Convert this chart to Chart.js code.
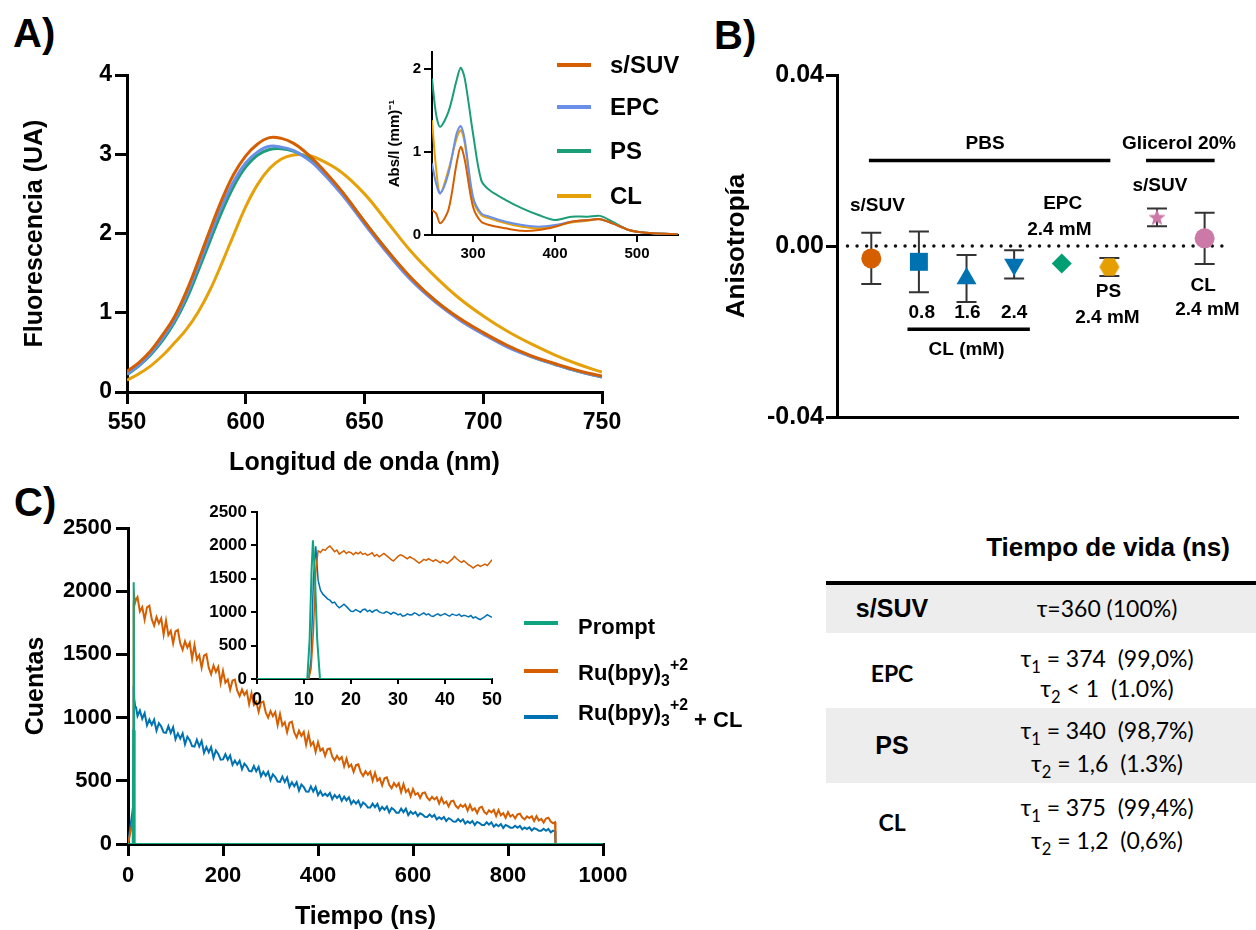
<!DOCTYPE html>
<html>
<head>
<meta charset="utf-8">
<script src="https://cdn.jsdelivr.net/npm/chart.js@4.4.1/dist/chart.umd.min.js"></script>
<style>
  html, body { margin: 0; padding: 0; background: #fff; }
  body { width: 1256px; height: 930px; position: relative; overflow: hidden;
         font-family: "Liberation Sans", Arial, sans-serif; color: #000; }
  canvas { position: absolute; }
  .lab { position: absolute; font-weight: bold; font-size: 40px; line-height: 1; }
  .t  { position: absolute; transform: translate(-50%, -50%); white-space: pre; line-height: 1; }
  .tl { position: absolute; transform: translateY(-50%); white-space: pre; line-height: 1; }
  .ln { position: absolute; height: 4px; width: 34px; }
  .b { font-weight: bold; }
  .cal { font-family: Lato, "Open Sans", sans-serif; }
  sub, sup { font-size: 72%; line-height: 0; position: relative; vertical-align: baseline; }
  sup { top: -0.65em; }
  sub { top: 0.38em; }
  .row { position: absolute; left: 826px; width: 430px; background: #ededed; }
</style>
</head>
<body>

<div class="lab" style="left:13px;top:13px">A)</div>
<div class="lab" style="left:714px;top:15px">B)</div>
<div class="lab" style="left:14px;top:482px">C)</div>

<canvas id="chartA" width="602" height="420" style="left:20px;top:60px"></canvas>
<canvas id="insetA" width="304" height="223" style="left:386px;top:42px"></canvas>
<canvas id="chartB" width="531" height="365" style="left:721px;top:60px"></canvas>
<canvas id="chartC" width="614" height="419" style="left:21px;top:513px"></canvas>
<canvas id="insetC" width="309" height="214" style="left:197px;top:500px"></canvas>

<!-- legend A -->
<div class="ln" style="left:557px;top:63px;background:#D55E00"></div>
<div class="tl b" style="left:610px;top:65px;font-size:24px">s/SUV</div>
<div class="ln" style="left:557px;top:105px;background:#6A8FE8"></div>
<div class="tl b" style="left:610px;top:107px;font-size:24px">EPC</div>
<div class="ln" style="left:557px;top:149px;background:#1B9E77"></div>
<div class="tl b" style="left:610px;top:151px;font-size:24px">PS</div>
<div class="ln" style="left:557px;top:194px;background:#E6A10A"></div>
<div class="tl b" style="left:610px;top:196px;font-size:24px">CL</div>

<!-- legend C -->
<div class="ln" style="left:524px;top:621px;background:#0FA37F"></div>
<div class="tl b" style="left:578px;top:627px;font-size:22px">Prompt</div>
<div class="ln" style="left:524px;top:669px;background:#D55E00"></div>
<div class="tl b" style="left:578px;top:673px;font-size:22px">Ru(bpy)<sub>3</sub><sup>+2</sup></div>
<div class="ln" style="left:524px;top:715px;background:#0072B2"></div>
<div class="tl b" style="left:578px;top:713px;font-size:22px">Ru(bpy)<sub>3</sub><sup>+2</sup> <span style="position:relative;top:7px">+ CL</span></div>

<!-- table -->
<div class="t b" style="left:1108px;top:547px;font-size:26px">Tiempo de vida (ns)</div>
<div style="position:absolute;left:826px;top:581px;width:430px;height:4px;background:#000"></div>
<div class="row" style="top:585px;height:48px"></div>
<div class="row" style="top:708px;height:75px"></div>

<div class="t b" style="left:892px;top:608px;font-size:25px">s/SUV</div>
<div class="t b cal" style="left:892px;top:673px;font-size:23px">EPC</div>
<div class="t b" style="left:892px;top:745px;font-size:25px">PS</div>
<div class="t b cal" style="left:892px;top:822px;font-size:23px">CL</div>

<div class="t cal" style="left:1107px;top:608px;font-size:23px">τ=360 (100%)</div>
<div class="t cal" style="left:1107px;top:658px;font-size:23px">τ<sub>1</sub> = 374  (99,0%)</div>
<div class="t cal" style="left:1107px;top:688px;font-size:23px">τ<sub>2</sub> &lt; 1  (1.0%)</div>
<div class="t cal" style="left:1107px;top:730px;font-size:23px">τ<sub>1</sub> = 340  (98,7%)</div>
<div class="t cal" style="left:1107px;top:763px;font-size:23px">τ<sub>2</sub> = 1,6  (1.3%)</div>
<div class="t cal" style="left:1107px;top:807px;font-size:23px">τ<sub>1</sub> = 375  (99,4%)</div>
<div class="t cal" style="left:1107px;top:840px;font-size:23px">τ<sub>2</sub> = 1,2  (0,6%)</div>

<script>
// ---------- A) emission spectra
const wavelength = [550, 555, 560, 565, 570, 575, 580, 585, 590, 595, 600, 605, 610, 615, 620, 625, 630,
                    640, 650, 660, 670, 680, 690, 700, 710, 720, 730, 740, 750];
const emisSUV = [0.26, 0.37, 0.52, 0.72, 0.95, 1.27, 1.65, 2.05, 2.43, 2.75, 2.98, 3.13, 3.21, 3.20, 3.14, 3.03, 2.89,
                 2.55, 2.15, 1.77, 1.43, 1.15, 0.93, 0.75, 0.59, 0.46, 0.36, 0.27, 0.20];
const emisEPC = [0.23, 0.34, 0.49, 0.68, 0.91, 1.22, 1.59, 1.98, 2.35, 2.66, 2.89, 3.03, 3.10, 3.09, 3.05, 2.96, 2.84,
                 2.51, 2.12, 1.74, 1.40, 1.13, 0.91, 0.73, 0.57, 0.45, 0.35, 0.26, 0.19];
const emisPS  = [0.22, 0.33, 0.47, 0.65, 0.88, 1.17, 1.53, 1.91, 2.28, 2.60, 2.84, 2.99, 3.06, 3.07, 3.04, 2.97, 2.87,
                 2.54, 2.15, 1.77, 1.42, 1.15, 0.92, 0.74, 0.58, 0.45, 0.35, 0.26, 0.19];
const emisCL  = [0.15, 0.23, 0.33, 0.46, 0.62, 0.79, 1.01, 1.29, 1.63, 1.99, 2.34, 2.62, 2.82, 2.94, 2.99, 2.99, 2.95,
                 2.78, 2.50, 2.13, 1.76, 1.45, 1.18, 0.96, 0.77, 0.61, 0.47, 0.35, 0.25];

// inset: absorbance
const absWl  = [250, 255, 260, 270, 280, 285, 290, 300, 310, 320, 340, 360, 380, 400, 420, 440, 455, 470, 490, 500, 520, 550];
const absSUV = [0.30, 0.26, 0.14, 0.30, 0.86, 1.06, 0.90, 0.34, 0.16, 0.12, 0.08, 0.05, 0.06, 0.10, 0.16, 0.18, 0.19, 0.14, 0.06, 0.04, 0.02, 0.01];
const absEPC = [0.86, 0.62, 0.50, 0.74, 1.22, 1.31, 1.14, 0.46, 0.26, 0.22, 0.16, 0.12, 0.10, 0.12, 0.16, 0.18, 0.19, 0.14, 0.06, 0.04, 0.02, 0.01];
const absPS  = [1.88, 1.45, 1.30, 1.48, 1.86, 2.01, 1.88, 1.22, 0.66, 0.54, 0.42, 0.32, 0.24, 0.18, 0.22, 0.22, 0.23, 0.16, 0.06, 0.04, 0.02, 0.01];
const absCL  = [1.38, 0.80, 0.50, 0.78, 1.16, 1.26, 1.10, 0.42, 0.24, 0.20, 0.14, 0.10, 0.08, 0.11, 0.15, 0.17, 0.19, 0.14, 0.06, 0.04, 0.02, 0.01];

// ---------- B) anisotropy
const bGroups = ['s/SUV', 'CL 0.8', 'CL 1.6', 'CL 2.4', 'EPC 2.4', 'PS 2.4', 's/SUV glicerol', 'CL 2.4 glicerol'];
const bMean = [-0.0029, -0.0037, -0.0076, -0.0043, -0.0041, -0.0049, 0.0067, 0.0018];
const bSD   = [0.0060, 0.0071, 0.0055, 0.0033, 0, 0.0021, 0.0021, 0.0060];
const bTicks = [-0.04, 0, 0.04];

// ---------- C) decays (ns, counts)
const tMain = [0, 11, 12, 13, 15, 17,
  20, 25, 30, 35, 40, 45, 50, 55, 60, 65, 70, 75, 80, 85, 90, 95,
  100, 105, 110, 115, 120, 125, 130, 135, 140, 145, 150, 155, 160, 165, 170, 175, 180, 185, 190, 195,
  200, 205, 210, 215, 220, 225, 230, 235, 240, 245, 250, 255, 260, 265, 270, 275, 280, 285, 290, 295,
  300, 305, 310, 315, 320, 325, 330, 335, 340, 345, 350, 355, 360, 365, 370, 375, 380, 385, 390, 395,
  400, 405, 410, 415, 420, 425, 430, 435, 440, 445, 450, 455, 460, 465, 470, 475, 480, 485, 490, 495,
  500, 505, 510, 515, 520, 525, 530, 535, 540, 545, 550, 555, 560, 565, 570, 575, 580, 585, 590, 595,
  600, 605, 610, 615, 620, 625, 630, 635, 640, 645, 650, 655, 660, 665, 670, 675, 680, 685, 690, 695,
  700, 705, 710, 715, 720, 725, 730, 735, 740, 745, 750, 755, 760, 765, 770, 775, 780, 785, 790, 795,
  800, 805, 810, 815, 820, 825, 830, 835, 840, 845, 850, 855, 860, 865, 870, 875, 880, 885, 890, 895,
  899, 900];
const ruMain = [0, 200, 1900, 1960, 1910, 1935,
  1953, 1840, 1874, 1775, 1872, 1885, 1779, 1728, 1796, 1745, 1785, 1657, 1767, 1653, 1686, 1586,
  1682, 1694, 1587, 1536, 1604, 1553, 1593, 1465, 1575, 1461, 1494, 1394, 1490, 1502, 1395, 1344, 1412, 1361, 1401, 1273,
  1370, 1277, 1301, 1220, 1293, 1300, 1213, 1171, 1222, 1179, 1209, 1106, 1192, 1100, 1125, 1045, 1119, 1127, 1041, 1000,
  1052, 1011, 1043, 941, 1028, 937, 963, 884, 959, 968, 883, 843, 896, 855, 887, 785, 872, 781, 807, 728,
  806, 739, 756, 697, 750, 755, 692, 661, 698, 667, 688, 614, 676, 610, 628, 570, 624, 630, 568, 538,
  576, 548, 572, 500, 564, 500, 520, 464, 520, 528, 468, 441, 482, 455, 480, 409, 474, 411, 432, 377,
  435, 390, 404, 364, 403, 408, 366, 346, 373, 353, 370, 320, 365, 321, 336, 297, 337, 343, 302, 283,
  311, 293, 312, 264, 310, 267, 283, 245, 287, 294, 254, 237, 267, 250, 270, 222, 269, 227, 244, 207,
  252, 218, 231, 202, 234, 240, 209, 195, 219, 206, 220, 182, 220, 186, 198, 170, 202, 208, 177, 163,
  172, 0];
const ruClMain = [0, 300, 1250, 1150, 1090, 1080,
  1013, 1056, 991, 1035, 939, 984, 942, 983, 897, 956, 929, 883, 879, 933, 879, 924,
  829, 875, 834, 875, 789, 848, 821, 775, 771, 825, 771, 816, 721, 767, 726, 767, 681, 740, 713, 667,
  669, 710, 667, 701, 626, 661, 628, 659, 591, 636, 614, 578, 575, 617, 575, 610, 536, 572, 540, 572,
  505, 551, 530, 494, 491, 533, 491, 526, 452, 488, 456, 489, 423, 470, 450, 415, 413, 456, 415, 451,
  387, 418, 382, 398, 380, 403, 355, 388, 365, 385, 342, 375, 345, 370, 317, 343, 320, 343, 295, 328,
  313, 288, 288, 319, 291, 317, 266, 293, 272, 296, 250, 285, 272, 248, 248, 280, 252, 279, 228, 256,
  238, 253, 221, 243, 233, 215, 214, 234, 214, 230, 195, 212, 197, 213, 181, 204, 194, 177, 176, 197,
  177, 195, 161, 179, 165, 182, 151, 175, 166, 150, 150, 172, 153, 171, 137, 155, 141, 158, 127, 151,
  141, 129, 128, 144, 129, 143, 116, 130, 119, 131, 107, 125, 117, 105, 104, 120, 105, 119, 92, 106,
  100, 0];
const tPrompt = [0, 10, 11, 12, 13, 14, 1000];
const promptMain = [0, 0, 900, 2070, 900, 0, 0];

// inset: first 50 ns
const tInset = [0, 11, 11.5, 12, 12.5,
  13, 13.5, 14, 14.5, 15, 15.5, 16, 16.5, 17, 17.5,
  18, 18.5, 19, 19.5, 20, 20.5, 21, 21.5, 22, 22.5,
  23, 23.5, 24, 24.5, 25, 25.5, 26, 26.5, 27, 27.5,
  28, 28.5, 29, 29.5, 30, 30.5, 31, 31.5, 32, 32.5,
  33, 33.5, 34, 34.5, 35, 35.5, 36, 36.5, 37, 37.5,
  38, 38.5, 39, 39.5, 40, 40.5, 41, 41.5, 42, 42.5,
  43, 43.5, 44, 44.5, 45, 45.5, 46, 46.5, 47, 47.5,
  48, 48.5, 49, 49.5, 50];
const ruInset = [0, 0, 150, 700, 1600,
  1920, 1895, 1940, 1925, 1965, 1990, 1950, 1905, 1930, 1870,
  1895, 1920, 1880, 1905, 1890, 1860, 1895, 1875, 1900, 1865,
  1880, 1850, 1870, 1890, 1840, 1865, 1830, 1855, 1880, 1850,
  1820, 1790, 1765, 1800, 1835, 1860, 1845, 1820, 1800, 1830,
  1810, 1790, 1760, 1735, 1760, 1790, 1775, 1800, 1780, 1760,
  1785, 1765, 1740, 1770, 1750, 1730, 1760, 1790, 1835, 1800,
  1770, 1745, 1770, 1740, 1710, 1690, 1660, 1690, 1710, 1685,
  1700, 1720, 1700, 1740, 1785];
const ruClInset = [0, 0, 300, 1500, 1985,
  1480, 1330, 1270, 1237, 1200, 1180, 1140, 1150, 1100, 1065,
  1090, 1120, 1087, 1050, 1015, 1012, 1040, 1020, 1000, 1037,
  1045, 1010, 1030, 1000, 1025, 1035, 1005, 990, 985, 1010,
  995, 970, 998, 985, 960, 975, 940, 950, 975, 960,
  963, 990, 975, 950, 970, 988, 960, 975, 945, 938,
  960, 975, 950, 963, 980, 955, 940, 973, 960, 950,
  970, 938, 955, 945, 930, 950, 913, 930, 905, 888,
  910, 935, 963, 940, 925];
const tPromptIn = [0, 10.7, 11.2, 11.6, 11.9, 12.3, 12.8, 13.4, 50];
const promptInset = [0, 0, 600, 1600, 2075, 1600, 600, 0, 0];

// ---------- helpers
Chart.defaults.font.family = '"Liberation Sans", Arial, sans-serif';
Chart.defaults.color = '#000';

const pts = (xs, ys) => xs.map((x, i) => ({ x: x, y: ys[i] }));

function axis(o) {
  const lw = o.lw || 3;
  return {
    type: 'linear', min: o.min, max: o.max,
    afterBuildTicks: s => { s.ticks = o.ticks.map(v => ({ value: v })); },
    afterFit: s => {
      if (s.isHorizontal()) s.height = o.size; else s.width = o.size;
      s.paddingLeft = s.paddingRight = s.paddingTop = s.paddingBottom = 0;
    },
    border: { display: true, color: '#000', width: lw },
    grid: { display: o.tickLen > 0, drawOnChartArea: false, drawTicks: true, tickLength: o.tickLen,
            color: '#000', lineWidth: lw },
    ticks: { display: o.font > 0, font: { size: o.font || 10, weight: 'bold' }, padding: o.pad || 0,
             color: '#000', maxRotation: 0, autoSkip: false, callback: o.fmt || (v => String(v)) },
    title: o.title ? { display: true, text: o.title, color: '#000', padding: 0,
                       font: { size: o.titleSize, weight: 'bold' } } : { display: false }
  };
}

function line(label, xs, ys, color, width, tension) {
  return { label: label, data: pts(xs, ys), borderColor: color, borderWidth: width,
           pointRadius: 0, fill: false, tension: tension || 0 };
}

function base(padding) {
  return { responsive: false, animation: false, events: [],
           layout: { autoPadding: false, padding: padding },
           plugins: { legend: { display: false }, tooltip: { enabled: false } } };
}

// ---------- A main
new Chart(document.getElementById('chartA'), {
  type: 'line',
  data: { datasets: [
    line('s/SUV', wavelength, emisSUV, '#D55E00', 3, 0.4),
    line('EPC', wavelength, emisEPC, '#6A8FE8', 3, 0.4),
    line('PS', wavelength, emisPS, '#1B9E77', 3, 0.4),
    line('CL', wavelength, emisCL, '#E6A10A', 3, 0.4)
  ] },
  options: Object.assign(base({ top: 15, right: 20, bottom: 2, left: 0 }), {
    scales: {
      x: axis({ min: 550, max: 750, ticks: [550, 600, 650, 700, 750], size: 86, tickLen: 12, pad: 5, font: 23,
                title: 'Longitud de onda (nm)', titleSize: 25 }),
      y: axis({ min: 0, max: 4, ticks: [0, 1, 2, 3, 4], size: 107, tickLen: 12, pad: 3, font: 23,
                title: 'Fluorescencia (UA)', titleSize: 25 })
    }
  })
});

// ---------- A inset
new Chart(document.getElementById('insetA'), {
  type: 'line',
  data: { datasets: [
    line('s/SUV', absWl, absSUV, '#D55E00', 2, 0.3),
    line('EPC', absWl, absEPC, '#6A8FE8', 2, 0.3),
    line('CL', absWl, absCL, '#E6A10A', 2, 0.3),
    line('PS', absWl, absPS, '#1B9E77', 2, 0.3)
  ] },
  options: Object.assign(base({ top: 10, right: 12, bottom: 0, left: 0 }), {
    scales: {
      x: axis({ min: 250, max: 550, ticks: [300, 400, 500], size: 30, tickLen: 7, pad: 3, font: 15, lw: 2 }),
      y: axis({ min: 0, max: 2.2, ticks: [0, 1, 2], size: 46, tickLen: 8, pad: 3, font: 15, lw: 2,
                title: 'Abs/l (mm)\u207B\u00B9', titleSize: 15 })
    }
  })
});

// ---------- B
function shape(color, draw) {
  const c = document.createElement('canvas');
  c.width = 24; c.height = 24;
  const g = c.getContext('2d');
  g.fillStyle = color;
  g.beginPath(); draw(g); g.closePath(); g.fill();
  return c;
}
const hexagon = shape('#E69F00', g => {
  for (let k = 0; k < 6; k++) {
    const a = k * Math.PI / 3;
    g.lineTo(12 + 10 * Math.cos(a), 12 + 10 * Math.sin(a));
  }
});
const star = shape('#CC79A7', g => {
  for (let k = 0; k < 10; k++) {
    const a = -Math.PI / 2 + k * Math.PI / 5, r = k % 2 ? 3.8 : 9;
    g.lineTo(12 + r * Math.cos(a), 12.5 + r * Math.sin(a));
  }
});

const bNotes = {
  texts: [
    ['PBS', 2.39, 0.0240], ['Glicerol 20%', 6.46, 0.0240],
    ['s/SUV', 0.13, 0.0094], ['EPC', 4.02, 0.0098], ['2.4 mM', 3.95, 0.0039],
    ['s/SUV', 6.06, 0.0141],
    ['0.8', 1.06, -0.0157], ['1.6', 2.02, -0.0157], ['2.4', 3.0, -0.0157], ['CL (mM)', 2.0, -0.0243],
    ['PS', 4.98, -0.0108], ['2.4 mM', 4.96, -0.0169],
    ['CL', 6.97, -0.0092], ['2.4 mM', 7.06, -0.0150]
  ],
  bars: [[-0.05, 5.02, 0.0200], [5.77, 7.21, 0.0200], [0.76, 3.33, -0.0195]]
};

const bPlugin = {
  id: 'bExtras',
  beforeDatasetsDraw(chart) {
    const { ctx, scales: { x, y } } = chart;
    ctx.save();
    ctx.strokeStyle = '#333';
    ctx.lineWidth = 2;
    bMean.forEach((m, i) => {
      if (!bSD[i]) return;
      const px = x.getPixelForValue(i);
      const top = y.getPixelForValue(m + bSD[i]);
      const bot = y.getPixelForValue(m - bSD[i]);
      ctx.beginPath();
      ctx.moveTo(px, top); ctx.lineTo(px, bot);
      ctx.moveTo(px - 10, top); ctx.lineTo(px + 10, top);
      ctx.moveTo(px - 10, bot); ctx.lineTo(px + 10, bot);
      ctx.stroke();
    });
    ctx.restore();
  },
  afterDraw(chart) {
    const { ctx, scales: { x, y } } = chart;
    ctx.save();
    ctx.fillStyle = '#000';
    ctx.font = 'bold 19px "Liberation Sans", Arial, sans-serif';
    ctx.textAlign = 'center';
    ctx.textBaseline = 'middle';
    bNotes.texts.forEach(([s, xi, yv]) => ctx.fillText(s, x.getPixelForValue(xi), y.getPixelForValue(yv)));
    ctx.lineWidth = 3.5;
    ctx.strokeStyle = '#000';
    bNotes.bars.forEach(([x1, x2, yv]) => {
      const py = y.getPixelForValue(yv);
      ctx.beginPath();
      ctx.moveTo(x.getPixelForValue(x1), py);
      ctx.lineTo(x.getPixelForValue(x2), py);
      ctx.stroke();
    });
    ctx.restore();
  }
};

new Chart(document.getElementById('chartB'), {
  type: 'scatter',
  data: { datasets: [
    {
      label: 'Anisotropía',
      data: bMean.map((m, i) => ({ x: i, y: m })),
      pointStyle: ['circle', 'rect', 'triangle', 'triangle', 'rectRot', hexagon, star, 'circle'],
      rotation: [0, 0, 0, 180, 0, 0, 0, 0],
      pointRadius: [10, 12.7, 11.5, 11.5, 10, 10, 9, 10],
      backgroundColor: ['#D55E00', '#0072B2', '#0072B2', '#0072B2', '#009E73', '#E69F00', '#CC79A7', '#CC79A7'],
      borderWidth: 0
    },
    {
      type: 'line', label: 'cero',
      data: [{ x: -0.5, y: 0 }, { x: 7.55, y: 0 }],
      borderColor: '#111', borderWidth: 3.5, borderDash: [0, 9.6], borderCapStyle: 'round',
      pointRadius: 0, fill: false
    }
  ] },
  options: Object.assign(base({ top: 15, right: 15, bottom: 8, left: 0 }), {
    scales: {
      x: axis({ min: -0.72, max: 7.68, ticks: [], size: 0, tickLen: 0, font: 0 }),
      y: axis({ min: -0.04, max: 0.04, ticks: bTicks, size: 116, tickLen: 11, pad: 2, font: 25,
                fmt: v => v.toFixed(2), title: 'Anisotropía', titleSize: 26 })
    }
  }),
  plugins: [bPlugin]
});

// ---------- C main
new Chart(document.getElementById('chartC'), {
  type: 'line',
  data: { datasets: [
    line('Prompt', tPrompt, promptMain, '#0FA37F', 2),
    line('Ru(bpy)3+2', tMain, ruMain, '#D55E00', 2),
    line('Ru(bpy)3+2 + CL', tMain, ruClMain, '#0072B2', 2)
  ] },
  options: Object.assign(base({ top: 15, right: 32, bottom: 0, left: 0 }), {
    scales: {
      x: axis({ min: 0, max: 1000, ticks: [0, 200, 400, 600, 800, 1000], size: 88, tickLen: 12, pad: 7, font: 22,
                title: 'Tiempo (ns)', titleSize: 25 }),
      y: axis({ min: 0, max: 2500, ticks: [0, 500, 1000, 1500, 2000, 2500], size: 107, tickLen: 12, pad: 4, font: 22,
                title: 'Cuentas', titleSize: 25 })
    }
  })
});

// ---------- C inset
new Chart(document.getElementById('insetC'), {
  type: 'line',
  data: { datasets: [
    line('Prompt', tPromptIn, promptInset, '#0FA37F', 2),
    line('Ru(bpy)3+2', tInset, ruInset, '#D55E00', 1.5),
    line('Ru(bpy)3+2 + CL', tInset, ruClInset, '#0072B2', 1.5)
  ] },
  options: Object.assign(base({ top: 12, right: 14, bottom: 0, left: 0 }), {
    scales: {
      x: axis({ min: 0, max: 50, ticks: [0, 10, 20, 30, 40, 50], size: 35, tickLen: 5, pad: 5, font: 18, lw: 2 }),
      y: axis({ min: 0, max: 2500, ticks: [0, 500, 1000, 1500, 2000, 2500], size: 60, tickLen: 6, pad: 4, font: 17, lw: 2 })
    }
  })
});
</script>
</body>
</html>
